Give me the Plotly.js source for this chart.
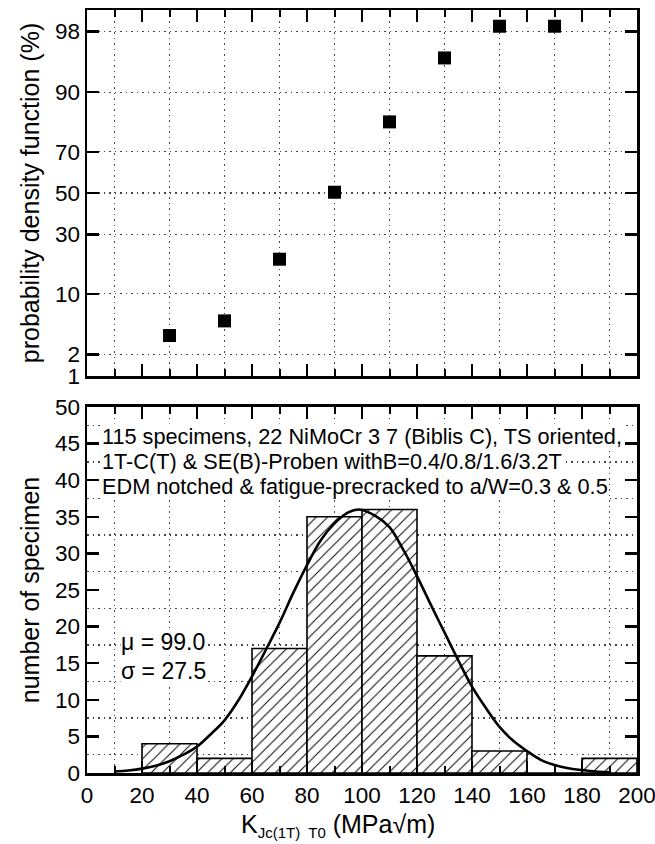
<!DOCTYPE html>
<html>
<head>
<meta charset="utf-8">
<script src="https://cdn.plot.ly/plotly-3.0.1.min.js"></script>
<style>html,body{margin:0;padding:0;background:#fff;}#chart{width:655px;height:844px;}</style>
</head>
<body>
<div id="chart"></div>
<script>
// ---- data ----
const probX = [30, 50, 70, 90, 110, 130, 150, 170];
const probPct = [3.5, 5.2, 20, 50.4, 81.7, 95.7, 98.3, 98.3];
const probTickPct = [1, 2, 10, 30, 50, 70, 90, 98];

const binCenters = [30, 50, 70, 90, 110, 130, 150, 170, 190];
const binCounts = [4, 2, 17, 35, 36, 16, 3, 0, 2];

const curveX = [10,15,20,25,30,35,40,45,50,55,60,65,70,75,80,85,90,95,99,105,110,115,120,125,130,135,140,145,150,155,160,165,170,175,180,185,190];
const curveY = [0.2,0.35,0.6,1.0,1.6,2.5,3.6,5.3,7.2,9.9,13.2,16.8,20.5,24.6,28.4,31.8,34.1,35.6,36.0,35.1,33.6,30.5,26.9,23.0,19.2,15.4,11.8,8.9,6.3,4.4,3.0,1.8,1.1,0.65,0.4,0.2,0.1];

const xMajor = [0,20,40,60,80,100,120,140,160,180,200];
const xMinor = [10,30,50,70,90,110,130,150,170,190];
const y2Major = [0,5,10,15,20,25,30,35,40,45,50];
const y2Minor = [2.5,7.5,12.5,17.5,22.5,27.5,32.5,37.5,42.5,47.5];

const infoLines = [
  "115 specimens, 22 NiMoCr 3 7 (Biblis C), TS oriented,",
  "1T-C(T) & SE(B)-Proben withB=0.4/0.8/1.6/3.2T",
  "EDM notched & fatigue-precracked to a/W=0.3 & 0.5"
];
const statLines = ["μ = 99.0", "σ = 27.5"];
const xTitle = "K<sub><span style='font-size:15px'>Jc(1T)  T0</span></sub> (MPa√m)";

// normal probability axis transform (inverse normal CDF, Acklam)
function probit(p) {
  const a=[-3.969683028665376e+01,2.209460984245205e+02,-2.759285104469687e+02,1.383577518672690e+02,-3.066479806614716e+01,2.506628277459239e+00];
  const b=[-5.447609879822406e+01,1.615858368580409e+02,-1.556989798598866e+02,6.680131188771972e+01,-1.328068155288572e+01];
  const c=[-7.784894002430293e-03,-3.223964580411365e-01,-2.400758277161838e+00,-2.549732539343734e+00,4.374664141464968e+00,2.938163982698783e+00];
  const d=[7.784695709041462e-03,3.224671290700398e-01,2.445134137142996e+00,3.754408661907416e+00];
  const plow=0.02425, phigh=1-plow;
  let q, r;
  if (p < plow) {
    q = Math.sqrt(-2*Math.log(p));
    return (((((c[0]*q+c[1])*q+c[2])*q+c[3])*q+c[4])*q+c[5])/((((d[0]*q+d[1])*q+d[2])*q+d[3])*q+1);
  } else if (p <= phigh) {
    q = p-0.5; r = q*q;
    return (((((a[0]*r+a[1])*r+a[2])*r+a[3])*r+a[4])*r+a[5])*q/(((((b[0]*r+b[1])*r+b[2])*r+b[3])*r+b[4])*r+1);
  } else {
    q = Math.sqrt(-2*Math.log(1-p));
    return -(((((c[0]*q+c[1])*q+c[2])*q+c[3])*q+c[4])*q+c[5])/((((d[0]*q+d[1])*q+d[2])*q+d[3])*q+1);
  }
}

const FONT = "Liberation Sans, Arial, Helvetica, sans-serif";
const GRID = {showgrid:true, gridcolor:"#444", gridwidth:1.3, griddash:"1.5px,4px"};

const traces = [
  {
    type: "scatter", mode: "markers", x: probX, y: probPct.map(v => probit(v/100)),
    xaxis: "x", yaxis: "y",
    marker: {symbol: "square", size: 13, color: "#000"},
    cliponaxis: false, hoverinfo: "skip"
  },
  {
    type: "bar", x: binCenters, y: binCounts, width: 20,
    xaxis: "x2", yaxis: "y2",
    marker: {color: "#fff", line: {color: "#000", width: 1.6},
      pattern: {shape: "/", fgcolor: "#000", bgcolor: "#fff", size: 8, solidity: 0.12, fillmode: "replace"}},
    hoverinfo: "skip"
  },
  {
    type: "scatter", mode: "lines", x: curveX, y: curveY,
    xaxis: "x2", yaxis: "y2",
    line: {color: "#000", width: 2.6, shape: "spline", smoothing: 1},
    hoverinfo: "skip"
  }
];

const commonX = {
  range: [0, 200], tickmode: "array", tickvals: xMajor,
  ticks: "inside", ticklen: 12, tickwidth: 2.5, tickcolor: "#000",
  showline: true, linewidth: 2.5, linecolor: "#000", mirror: "allticks",
  showgrid: false, zeroline: false,
  minor: Object.assign({tickmode: "array", tickvals: xMinor, ticks: "inside", ticklen: 7, tickwidth: 2, tickcolor: "#000"}, GRID)
};

const layout = {
  width: 655, height: 844,
  margin: {l: 87, r: 18, t: 10, b: 71},
  paper_bgcolor: "#fff", plot_bgcolor: "#fff",
  showlegend: false,
  font: {family: FONT, color: "#000", size: 22},
  bargap: 0,
  xaxis: Object.assign({}, commonX, {anchor: "y", domain: [0, 1], showticklabels: false}),
  yaxis: {
    anchor: "x", domain: [0.5203, 1],
    range: [probit(0.01), probit(0.99)],
    tickmode: "array", tickvals: probTickPct.map(v => probit(v/100)), ticktext: probTickPct.map(String),
    ticks: "inside", ticklen: 12, tickwidth: 2.5, tickcolor: "#000",
    showline: true, linewidth: 2.5, linecolor: "#000", mirror: "allticks",
    zeroline: false, showgrid: true, gridcolor: GRID.gridcolor, gridwidth: GRID.gridwidth, griddash: GRID.griddash,
    tickfont: {size: 22.5},
    title: {text: "probability density function (%)", font: {size: 25}, standoff: 8}
  },
  xaxis2: Object.assign({}, commonX, {anchor: "y2", domain: [0, 1], showticklabels: true,
    ticklabeloverflow: "allow", tickfont: {size: 22.5}}),
  yaxis2: {
    anchor: "x2", domain: [0, 0.4797],
    range: [0, 50],
    tickmode: "array", tickvals: y2Major,
    ticks: "inside", ticklen: 12, tickwidth: 2.5, tickcolor: "#000",
    showline: true, linewidth: 2.5, linecolor: "#000", mirror: "allticks",
    zeroline: false, showgrid: false,
    minor: Object.assign({tickmode: "array", tickvals: y2Minor, ticks: "", ticklen: 0}, GRID),
    tickfont: {size: 22.5},
    title: {text: "number of specimen", font: {size: 25}, standoff: 8}
  },
  annotations: [
    {xref: "x2", yref: "y2", x: 5, y: 45.9, text: infoLines[0]},
    {xref: "x2", yref: "y2", x: 5, y: 42.6, text: infoLines[1]},
    {xref: "x2", yref: "y2", x: 5, y: 39.2, text: infoLines[2]},
    {xref: "x2", yref: "y2", x: 12, y: 17.9, text: statLines[0], font: {size: 23}},
    {xref: "x2", yref: "y2", x: 12, y: 13.9, text: statLines[1], font: {size: 23}},
    {xref: "paper", yref: "paper", x: (240 - 87) / 550, y: -0.069, text: xTitle, font: {size: 25},
      bgcolor: "rgba(0,0,0,0)"}
  ].map(a => Object.assign({xanchor: "left", yanchor: "middle", showarrow: false,
    bgcolor: "#fff", borderpad: 0, font: {size: 21.7}}, a))
};

Plotly.newPlot("chart", traces, layout, {staticPlot: true, displayModeBar: false});
</script>
</body>
</html>
